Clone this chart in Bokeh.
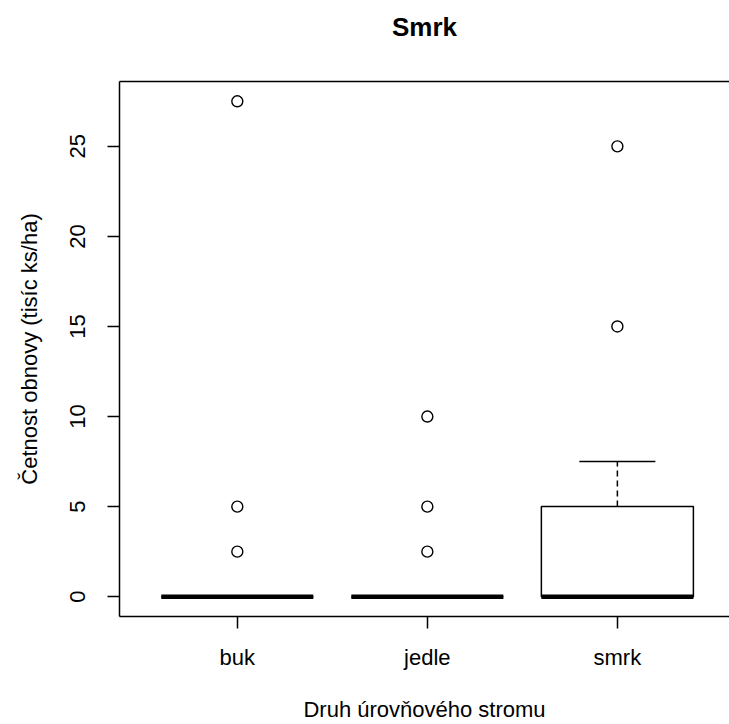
import numpy as np
from bokeh.plotting import figure
from bokeh.models import (ColumnDataSource, Range1d, FixedTicker, LinearAxis,
                          Title)
from bokeh.embed import file_html
from bokeh.resources import INLINE

# Box-plot summaries of regeneration counts (thousand seedlings per ha)
categories = ["buk", "jedle", "smrk"]
q1 = [0.0, 0.0, 0.0]
median = [0.0, 0.0, 0.0]
q3 = [0.0, 0.0, 5.0]
whisker_low = [0.0, 0.0, 0.0]
whisker_high = [0.0, 0.0, 7.5]
outliers = {
    "buk": [27.5, 5.0, 2.5],
    "jedle": [10.0, 5.0, 2.5],
    "smrk": [25.0, 15.0],
}
y_ticks = [0, 5, 10, 15, 20, 25]
title_text = "Smrk"

FONT = "Liberation Sans"
BOX_HALF = 0.4
CAP_HALF = 0.2

xs = np.arange(1, len(categories) + 1, dtype=float)

p = figure(
    width=729, height=724,
    x_range=Range1d(0.38, 3.59),
    y_range=Range1d(-1.1, 28.6),
    output_backend="svg", toolbar_location=None,
    min_border_left=119, min_border_right=0,
    min_border_top=81, min_border_bottom=108,
    x_axis_location="below", y_axis_location="left",
)
p.outline_line_color = None
p.background_fill_color = "white"
p.border_fill_color = "white"
p.grid.visible = False

src = ColumnDataSource(dict(
    x=xs, left=xs - BOX_HALF, right=xs + BOX_HALF,
    cap_l=xs - CAP_HALF, cap_r=xs + CAP_HALF,
    q1=q1, med=median, q3=q3, lo=whisker_low, hi=whisker_high,
))

# whiskers (dashed) and caps
p.segment(x0="x", y0="q3", x1="x", y1="hi", source=src,
          line_color="black", line_width=1.5, line_dash="6 4")
p.segment(x0="x", y0="q1", x1="x", y1="lo", source=src,
          line_color="black", line_width=1.5, line_dash="6 4")
p.segment(x0="cap_l", y0="hi", x1="cap_r", y1="hi", source=src,
          line_color="black", line_width=1.5)
p.segment(x0="cap_l", y0="lo", x1="cap_r", y1="lo", source=src,
          line_color="black", line_width=1.5)

# boxes
p.quad(left="left", right="right", bottom="q1", top="q3", source=src,
       fill_color="white", line_color="black", line_width=1.5)

# medians
p.segment(x0="left", y0="med", x1="right", y1="med", source=src,
          line_color="black", line_width=4.5)

# outliers
ox, oy = [], []
for i, c in enumerate(categories):
    for v in outliers[c]:
        ox.append(xs[i])
        oy.append(v)
p.scatter(ox, oy, marker="circle", size=11, fill_color=None,
          line_color="black", line_width=1.4)

# x axis
xa = p.xaxis[0]
xa.ticker = FixedTicker(ticks=list(xs))
xa.major_label_overrides = {float(x): c for x, c in zip(xs, categories)}
xa.major_label_overrides.update({int(x): c for x, c in zip(xs, categories)})
xa.minor_tick_line_color = None
xa.major_tick_out = 12
xa.major_tick_in = 0
xa.major_tick_line_width = 1.5
xa.axis_line_width = 1.5
xa.major_label_standoff = 16
xa.major_label_text_font = FONT
xa.major_label_text_font_size = "22px"
xa.major_label_text_color = "black"
xa.axis_label = "Druh úrovňového stromu"
xa.axis_label_text_font = FONT
xa.axis_label_text_font_size = "22px"
xa.axis_label_text_font_style = "normal"
xa.axis_label_text_color = "black"
xa.axis_label_standoff = 24

# y axis
ya = p.yaxis[0]
ya.ticker = FixedTicker(ticks=y_ticks)
ya.minor_tick_line_color = None
ya.major_tick_out = 12
ya.major_tick_in = 0
ya.major_tick_line_width = 1.5
ya.axis_line_width = 1.5
ya.major_label_orientation = "vertical"
ya.major_label_standoff = 22
ya.major_label_text_font = FONT
ya.major_label_text_font_size = "22px"
ya.major_label_text_color = "black"
ya.axis_label = "Četnost obnovy (tisíc ks/ha)"
ya.axis_label_text_font = FONT
ya.axis_label_text_font_size = "22px"
ya.axis_label_text_font_style = "normal"
ya.axis_label_text_color = "black"
ya.axis_label_standoff = 26

# top border of the plotting region
top = LinearAxis(ticker=FixedTicker(ticks=[]), major_tick_out=0,
                 major_tick_in=0, minor_tick_line_color=None,
                 major_label_standoff=0, axis_line_width=1.5,
                 major_label_text_color=None)
p.add_layout(top, "above")

# blank gap between the plotting region and the title
p.add_layout(Title(text=" ", text_font_size="2px", standoff=36), "above")

# main title, outermost in the top panel
p.title.text = title_text
p.title.text_font = FONT
p.title.text_font_size = "26px"
p.title.text_font_style = "bold"
p.title.align = "center"
p.title.offset = 3
p.title.standoff = 0
p.title.text_color = "black"

open("out.html", "w").write(file_html(p, INLINE))
